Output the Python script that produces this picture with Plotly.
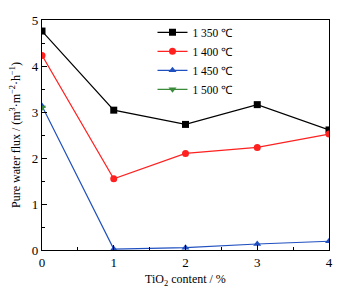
import plotly.graph_objects as go

x_vals = [0, 1, 2, 3, 4]
s1350 = [4.76, 3.04, 2.73, 3.16, 2.61]
s1400 = [4.23, 1.55, 2.10, 2.23, 2.52]
s1450 = [3.13, 0.02, 0.05, 0.13, 0.19]
x1500 = [0]
s1500 = [3.10]
names = ["1 350 ℃", "1 400 ℃", "1 450 ℃", "1 500 ℃"]

fig = go.Figure()
fig.add_trace(go.Scatter(x=x_vals, y=s1350, name=names[0], mode="lines+markers",
                         line=dict(color="black", width=1.2), marker=dict(symbol="square", size=7, color="black")))
fig.add_trace(go.Scatter(x=x_vals, y=s1400, name=names[1], mode="lines+markers",
                         line=dict(color="#ff2020", width=1.2), marker=dict(symbol="circle", size=7, color="#ff2020")))
fig.add_trace(go.Scatter(x=x_vals, y=s1450, name=names[2], mode="lines+markers",
                         line=dict(color="#2050c0", width=1.2), marker=dict(symbol="triangle-up", size=7, color="#2050c0")))
fig.add_trace(go.Scatter(x=x1500, y=s1500, name=names[3], mode="lines+markers",
                         line=dict(color="#3a8a3a", width=1.2), marker=dict(symbol="triangle-down", size=7, color="#3a8a3a")))

font = "Liberation Serif, Times New Roman, serif"
axis_common = dict(showline=True, linecolor="black", linewidth=1.2, mirror=True, automargin=False,
                   ticks="inside", ticklen=5, tickcolor="black", showgrid=False, zeroline=False,
                   tickfont=dict(family=font, size=13, color="black"),
                   minor=dict(ticks="inside", ticklen=3, tickcolor="black", dtick=0.5))
fig.update_xaxes(range=[0, 4], dtick=1, tick0=0,
                 title=dict(text="TiO<sub>2</sub> content / %", font=dict(family=font, size=12, color="black"), standoff=6),
                 **axis_common)
fig.update_yaxes(range=[0, 5], dtick=1, tick0=0,
                 title=dict(text="Pure water flux / (m<sup>3</sup>·m<sup>−2</sup>·h<sup>−1</sup>)", font=dict(family=font, size=12, color="black"), standoff=10),
                 **axis_common)
fig.update_layout(width=342, height=280, margin=dict(l=34, r=21, t=11, b=38),
                  paper_bgcolor="white", plot_bgcolor="white", showlegend=True,
                  legend=dict(x=0.385, y=1.005, xanchor="left", yanchor="top", bgcolor="rgba(0,0,0,0)",
                              font=dict(family=font, size=11.5, color="black"), tracegroupgap=0, itemwidth=30))
fig.write_html("out.html")
